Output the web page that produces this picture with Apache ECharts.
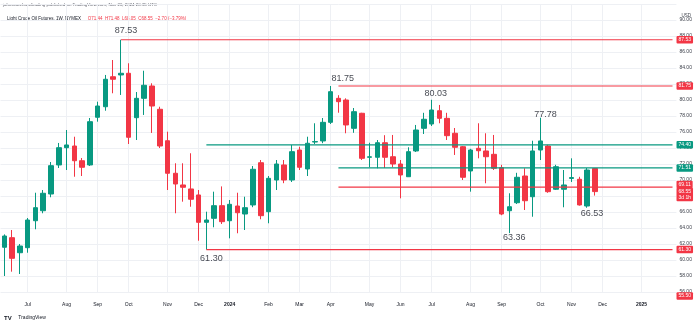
<!DOCTYPE html>
<html><head><meta charset="utf-8">
<script src="https://cdn.jsdelivr.net/npm/echarts@6/dist/echarts.min.js"></script>
<style>html,body{margin:0;padding:0;background:#fff}#c{width:700px;height:323px}</style>
</head><body><div id="c"></div>
<script>
// Weekly categories (Mondays), including empty future weeks at the right
const weeks = [
'2023-06-12','2023-06-19','2023-06-26','2023-07-03','2023-07-10','2023-07-17','2023-07-24','2023-07-31',
'2023-08-07','2023-08-14','2023-08-21','2023-08-28','2023-09-04','2023-09-11','2023-09-18','2023-09-25',
'2023-10-02','2023-10-09','2023-10-16','2023-10-23','2023-10-30','2023-11-06','2023-11-13','2023-11-20',
'2023-11-27','2023-12-04','2023-12-11','2023-12-18','2023-12-25','2024-01-01','2024-01-08','2024-01-15',
'2024-01-22','2024-01-29','2024-02-05','2024-02-12','2024-02-19','2024-02-26','2024-03-04','2024-03-11',
'2024-03-18','2024-03-25','2024-04-01','2024-04-08','2024-04-15','2024-04-22','2024-04-29','2024-05-06',
'2024-05-13','2024-05-20','2024-05-27','2024-06-03','2024-06-10','2024-06-17','2024-06-24','2024-07-01',
'2024-07-08','2024-07-15','2024-07-22','2024-07-29','2024-08-05','2024-08-12','2024-08-19','2024-08-26',
'2024-09-02','2024-09-09','2024-09-16','2024-09-23','2024-09-30','2024-10-07','2024-10-14','2024-10-21',
'2024-10-28','2024-11-04','2024-11-11','2024-11-18','2024-11-25','2024-12-02','2024-12-09','2024-12-16',
'2024-12-23','2024-12-30','2025-01-06','2025-01-13','2025-01-20','2025-01-27','2025-02-03'];

const opens = [61.59,62.79,60.91,61.54,64.91,66.16,68.25,71.88,74.04,74.25,72.41,71.88,77.84,79.16,82.91,83.13,
83.34,77.79,80.21,81.75,78.84,74.91,70.84,69.38,68.88,68.13,64.71,65.21,66.79,64.91,66.75,65.75,
66.88,72.16,66.04,70.00,71.88,70.00,73.75,71.38,74.75,74.88,77.21,80.21,80.00,76.46,78.34,72.84,
72.84,74.66,72.91,72.00,70.41,73.63,76.46,77.00,78.66,77.71,75.84,74.16,71.13,73.96,73.63,73.21,
71.54,66.16,67.16,70.50,67.91,73.75,74.25,68.84,68.84,70.20,70.09,66.75,71.44];
const highs = [63.20,63.75,62.00,65.25,68.41,68.75,72.25,74.63,76.25,75.41,72.75,77.75,79.79,83.13,85.00,87.53,
84.59,81.00,83.66,82.09,79.16,76.04,72.09,72.09,73.34,68.75,66.04,68.54,69.20,67.50,68.41,67.91,
71.75,72.50,70.50,72.50,72.50,74.38,74.16,75.41,77.09,77.75,81.75,80.60,80.21,79.00,78.40,74.66,
75.00,75.60,75.63,72.50,74.09,76.88,78.40,80.03,79.38,78.40,76.50,74.25,73.90,77.09,75.84,75.63,
71.90,68.34,70.90,71.46,74.91,77.78,74.40,71.90,71.25,72.71,70.40,71.50,71.48];
const lows = [58.00,58.54,58.25,60.91,63.84,65.84,67.84,71.50,71.25,70.41,70.50,71.75,77.29,78.66,80.84,80.63,
74.50,75.00,78.13,75.88,74.00,68.75,65.84,67.29,66.66,62.41,61.30,64.09,64.50,62.71,63.34,63.75,
66.60,65.09,64.59,68.75,69.60,69.75,71.25,70.50,74.50,74.60,77.00,78.41,75.84,75.90,72.50,71.59,
71.46,71.50,71.60,67.71,70.40,73.50,75.75,76.75,77.09,75.00,73.13,70.00,68.54,72.71,69.59,71.25,
65.60,63.36,67.00,66.25,65.41,72.50,68.40,68.75,66.59,69.75,66.80,66.53,68.05];
const closes = [63.00,60.21,61.75,65.00,66.54,68.34,71.79,74.04,74.38,72.41,71.59,77.29,79.25,82.59,82.59,83.34,
75.34,80.21,81.84,79.25,74.25,70.84,69.50,69.09,67.59,64.71,65.00,66.79,64.79,66.96,65.91,66.54,
71.34,65.54,70.21,72.00,70.00,73.54,71.59,74.59,74.80,77.21,81.04,79.79,76.88,78.54,72.71,72.90,
74.66,72.84,72.00,70.63,73.54,76.25,77.59,78.75,77.71,75.54,74.09,70.34,73.75,73.66,72.91,71.46,
65.75,66.66,70.34,67.41,73.63,74.88,68.54,71.66,69.38,70.30,66.88,71.25,68.55];

// Horizontal levels drawn on the chart
const levelValues = [87.53, 81.75, 74.40, 71.51, 69.11, 61.30];
const levelStarts = ['2023-09-25','2024-04-08','2023-12-11','2024-04-08','2024-04-08','2023-12-11'];
const levelKinds  = ['red','red','teal','teal','red','red'];

// Swing high / low annotations
const annotDates  = ['2023-09-25','2024-04-01','2024-07-01','2024-10-07','2023-12-11','2024-09-09','2024-11-18'];
const annotValues = [87.53, 81.75, 80.03, 77.78, 61.30, 63.36, 66.53];

const lastPrice = 68.55;
const lastCountdown = '3d 1h';
const offscaleTag = 55.50;
const monthNames = ['Jan','Feb','Mar','Apr','May','Jun','Jul','Aug','Sep','Oct','Nov','Dec'];

const RED = '#f23645', GREEN = '#089981', TXT = '#131722', GRID = '#eef0f4';
const lastWeek = weeks[weeks.length - 1];
const isMonthTick = (idx, val) => {
  const d = +val.slice(8, 10);
  return d <= 7 && idx <= weeks.length - 2;
};

const candleData = opens.map((o, i) => [o, closes[i], lows[i], highs[i]]);

const series = [{
  type: 'candlestick',
  name: 'CL',
  data: candleData,
  barWidth: 5,
  itemStyle: {color: GREEN, color0: RED, borderColor: GREEN, borderColor0: RED, borderWidth: 1},
  z: 3
}];

levelValues.forEach((v, i) => {
  const col = levelKinds[i] === 'red' ? RED : GREEN;
  series.push({
    type: 'line',
    data: [[levelStarts[i], v], [lastWeek, v]],
    symbol: 'none',
    lineStyle: {color: col, width: 1.2},
    silent: true,
    z: 4,
    endLabel: {
      show: true,
      formatter: () => v.toFixed(2),
      backgroundColor: col, color: '#fff',
      fontSize: 5, fontFamily: 'Liberation Sans',
      padding: [1.5, 2, 1, 2], borderRadius: 1,
      distance: 4,
      offset: v === 69.11 ? [0, -2.5] : [0, 0]
    }
  });
});

// last price tag (with countdown)
series.push({
  type: 'line',
  data: [[weeks[opens.length - 1], lastPrice], [lastWeek, lastPrice]],
  symbol: 'none', silent: true,
  lineStyle: {opacity: 0},
  z: 5,
  endLabel: {
    show: true,
    formatter: () => lastPrice.toFixed(2) + '\n' + lastCountdown,
    backgroundColor: RED, color: '#fff',
    fontSize: 5, lineHeight: 6, fontFamily: 'Liberation Sans',
    padding: [1, 2, 0.5, 2], borderRadius: 1,
    distance: 4, offset: [0, 3]
  }
});
// off-scale tag at the bottom of the price scale
series.push({
  type: 'line',
  data: [[weeks[weeks.length - 2], offscaleTag], [lastWeek, offscaleTag]],
  symbol: 'none', silent: true, clip: false,
  lineStyle: {opacity: 0},
  endLabel: {
    show: true,
    formatter: () => offscaleTag.toFixed(2),
    backgroundColor: RED, color: '#fff',
    fontSize: 5, fontFamily: 'Liberation Sans',
    padding: [1.5, 2, 1, 2], borderRadius: 1, distance: 4
  }
});

// swing labels: one tiny scatter series per label so each can carry its own shift
const annotShift = [[5,-9.5],[12,-7.7],[4,-6],[5,-3.5],[5,8.7],[5,4.6],[5,6.2]];
annotDates.forEach((d, i) => {
  series.push({
    type: 'scatter',
    symbolSize: 1,
    itemStyle: {color: 'rgba(0,0,0,0)'},
    silent: true,
    z: 6,
    data: [[d, annotValues[i]]],
    label: {
      show: true, position: 'inside',
      formatter: p => p.value[1].toFixed(2),
      color: TXT, fontSize: 9, fontFamily: 'Liberation Sans'
    },
    labelLayout: {hideOverlap: false, dx: annotShift[i][0], dy: annotShift[i][1]}
  });
});

const chart = echarts.init(document.getElementById('c'), null, {renderer: 'canvas'});
chart.setOption({
  animation: false,
  backgroundColor: '#fff',
  grid: {left: 0.5, right: 23.6, top: 4, bottom: 31, containLabel: false},
  xAxis: {
    type: 'category',
    data: weeks,
    boundaryGap: true,
    axisLine: {show: false},
    axisTick: {show: false},
    axisLabel: {
      interval: isMonthTick,
      margin: 10,
      fontSize: 5, color: TXT, fontFamily: 'Liberation Sans',
      formatter: val => {
        const m = +val.slice(5, 7);
        return m === 1 ? '{y|' + val.slice(0, 4) + '}' : monthNames[m - 1];
      },
      rich: {y: {fontSize: 5, fontWeight: 'bold', color: TXT, fontFamily: 'Liberation Sans'}}
    },
    splitLine: {show: true, interval: isMonthTick, alignWithLabel: true, lineStyle: {color: GRID, width: 1}}
  },
  yAxis: {
    type: 'value',
    position: 'right',
    min: 56, max: 92, interval: 2,
    axisLine: {show: false},
    axisTick: {show: false},
    axisLabel: {
      margin: 3, fontSize: 5, color: '#3a3e48', fontFamily: 'Liberation Sans',
      showMaxLabel: false,
      formatter: v => v.toFixed(2)
    },
    splitLine: {show: true, lineStyle: {color: GRID, width: 1}}
  },
  graphic: [
    {type: 'text', left: 3, top: 2.5, style: {text: 'jahnsearchandtrading published on TradingView.com, Nov 26, 2024 20:35 UTC', fontSize: 4.4, fill: '#50535e', fontFamily: 'Liberation Sans'}},
    {type: 'text', left: 7, top: 12.5, style: {
      text: '{a|Light Crude Oil Futures, 1W, NYMEX}  {b|O71.44  H71.48  L68.05  C68.55  −2.70 (−3.79%)}',
      rich: {a: {fontSize: 4.5, fill: TXT, fontFamily: 'Liberation Sans'}, b: {fontSize: 4.5, fill: RED, fontFamily: 'Liberation Sans'}}
    }},
    {type: 'text', right: 9, top: 13.5, style: {text: 'USD', fontSize: 4.5, fill: '#3a3e48', fontFamily: 'Liberation Sans'}},
    {type: 'text', left: 4, top: 312, style: {
      text: '{l|TV}  {t|TradingView}',
      rich: {l: {fontSize: 6, fontWeight: 'bold', fill: TXT, fontFamily: 'Liberation Sans'}, t: {fontSize: 5, fill: TXT, fontFamily: 'Liberation Sans'}}
    }}
  ],
  series: series
});
</script>
</body></html>
